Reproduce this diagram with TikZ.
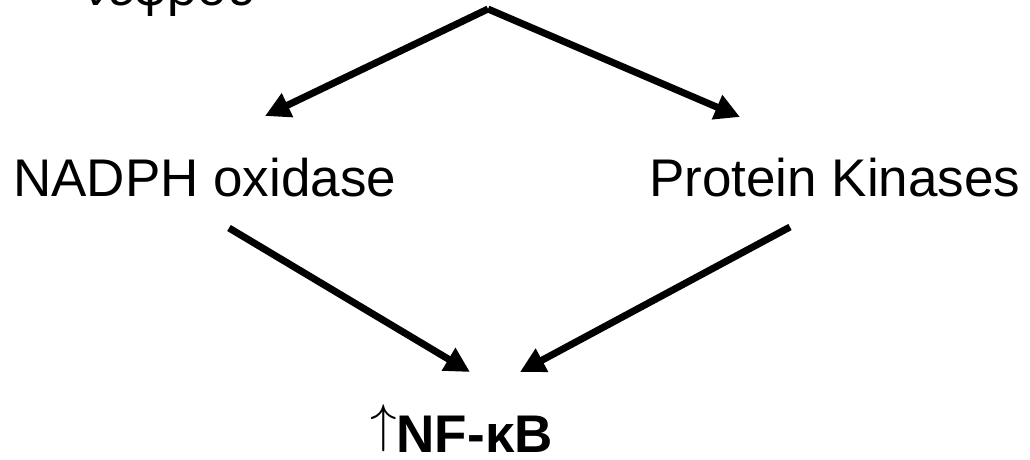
\documentclass[tikz,border=0pt]{standalone}
\usepackage{fontspec}
\setmainfont{Liberation Sans}
\usetikzlibrary{arrows.meta}
\tikzset{
  lbl/.style={inner sep=0pt, anchor=base west, font=\fontsize{53}{60}\selectfont},
  conn/.style={line width=7pt, -{Triangle[length=25pt,width=25pt]}}
}
% thin, tall up arrow: the 10pt math arrow enlarged
\newcommand{\tallup}{\raisebox{10.3pt}{\scalebox{5.3}{\fontsize{10}{12}\selectfont$\uparrow$}}}
\begin{document}
\begin{tikzpicture}[x=1pt, y=-1pt]
  \clip (0,0) rectangle (1030,459);
  \fill[white] (0,0) rectangle (1030,459);

  % labels
  \node[lbl] (kidney) at (83,5) {νεφρού};
  \node[lbl] (nadph) at (13,196) {NADPH oxidase};
  \node[lbl] (pk) at (649,196) {Protein Kinases};
  \node[lbl] (nfkb) at (370,452) {\tallup\textbf{NF-κB}};

  % connector ends
  \coordinate (kidney-out) at (488,9);
  \coordinate (nadph-in) at (265,116);
  \coordinate (pk-in) at (740,117);
  \coordinate (nadph-out) at (229,228);
  \coordinate (pk-out) at (790,227);
  \coordinate (nfkb-inl) at (470,372);
  \coordinate (nfkb-inr) at (520,372);

  % connectors
  \draw[conn] (kidney-out) -- (nadph-in);
  \draw[conn] (kidney-out) -- (pk-in);
  \draw[conn] (nadph-out) -- (nfkb-inl);
  \draw[conn] (pk-out) -- (nfkb-inr);
\end{tikzpicture}
\end{document}
